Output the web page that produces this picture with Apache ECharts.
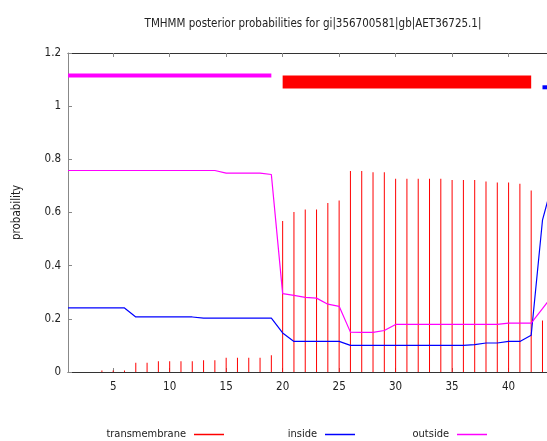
<!DOCTYPE html>
<html>
<head>
<meta charset="utf-8">
<script src="https://cdn.jsdelivr.net/npm/echarts@6/dist/echarts.min.js"></script>
<style>html,body{margin:0;padding:0;background:#fff;}#c{width:547px;height:441px;}</style>
</head>
<body>
<div id="c"></div>
<script>
const positions = [1,2,3,4,5,6,7,8,9,10,11,12,13,14,15,16,17,18,19,20,21,22,23,24,25,26,27,28,29,30,31,32,33,34,35,36,37,38,39,40,41,42,43,44];
const transmembrane = [0,0,0,0.006,0.006,0.006,0.035,0.035,0.040,0.040,0.040,0.040,0.044,0.044,0.054,0.054,0.054,0.054,0.063,0.568,0.602,0.611,0.611,0.636,0.645,0.756,0.756,0.751,0.751,0.727,0.727,0.727,0.727,0.727,0.722,0.722,0.722,0.717,0.713,0.713,0.708,0.683,0.194,0.0];
const inside = [0.241,0.241,0.241,0.241,0.241,0.241,0.207,0.207,0.207,0.207,0.207,0.207,0.203,0.203,0.203,0.203,0.203,0.203,0.203,0.147,0.115,0.115,0.115,0.115,0.115,0.100,0.100,0.100,0.100,0.100,0.100,0.100,0.100,0.100,0.100,0.100,0.103,0.109,0.109,0.115,0.115,0.138,0.571,0.73];
const outside = [0.758,0.758,0.758,0.758,0.758,0.758,0.758,0.758,0.758,0.758,0.758,0.758,0.758,0.758,0.748,0.748,0.748,0.748,0.743,0.295,0.288,0.281,0.278,0.255,0.247,0.150,0.149,0.149,0.156,0.179,0.179,0.179,0.179,0.179,0.179,0.179,0.179,0.179,0.179,0.184,0.184,0.184,0.238,0.294];
const xTicks = [5,10,15,20,25,30,35,40];
const outsideRegion = [1,19];
const tmRegion = [20,42];
const insideRegion = [43,44];
const outsideLevel = 1.115, tmLevel = 1.091, insideLevel = 1.071;

const FONT = '"Liberation Sans Narrow", "DejaVu Sans Condensed", sans-serif';
const pair = (a) => positions.map((p, i) => [p, a[i]]);
const seg = (r, lvl) => [[r[0], lvl], [r[1], lvl]];

const chart = echarts.init(document.getElementById('c'), null, {renderer: 'canvas'});
const legendBase = {
  orient: 'horizontal', align: 'right', icon: 'rect', itemWidth: 30, itemHeight: 1.5,
  top: 429, padding: 0,
  textStyle: {fontFamily: FONT, fontSize: 11, color: '#222', padding: [0, 3, 0, 0]},
  selectedMode: false
};
chart.setOption({
  animation: false,
  title: {
    text: 'TMHMM posterior probabilities for gi|356700581|gb|AET36725.1|',
    left: 308, top: 13, textAlign: 'center',
    textStyle: {fontFamily: FONT, fontSize: 11.5, fontWeight: 'normal', color: '#222'}
  },
  legend: [
    Object.assign({}, legendBase, {right: 323, data: ['transmembrane']}),
    Object.assign({}, legendBase, {right: 192, data: ['inside']}),
    Object.assign({}, legendBase, {right: 60, data: ['outside']})
  ],
  grid: {left: 68, top: 53, right: 0, bottom: 69, containLabel: false},
  xAxis: [{
    type: 'value', min: 1, max: 43.4, position: 'bottom',
    axisLine: {show: true, lineStyle: {color: '#333', width: 1}},
    axisTick: {show: true, inside: true, length: 4, customValues: xTicks, lineStyle: {color: '#888'}},
    axisLabel: {customValues: xTicks, margin: 9, fontFamily: FONT, fontSize: 11.5, color: '#222'},
    splitLine: {show: false}
  }, {
    type: 'value', min: 1, max: 43.4, position: 'top',
    axisLine: {show: true, onZero: false, lineStyle: {color: '#333', width: 1}},
    axisTick: {show: true, inside: true, length: 4, customValues: xTicks, lineStyle: {color: '#888'}},
    axisLabel: {show: false},
    splitLine: {show: false}
  }],
  yAxis: {
    type: 'value', min: 0, max: 1.2, interval: 0.2,
    name: 'probability', nameLocation: 'middle', nameGap: 45, nameRotate: 90,
    nameTextStyle: {fontFamily: FONT, fontSize: 11.5, color: '#222'},
    axisLine: {show: true, lineStyle: {color: '#888', width: 1}},
    axisTick: {show: true, inside: true, length: 4, lineStyle: {color: '#888'}},
    axisLabel: {margin: 7, fontFamily: FONT, fontSize: 11.5, color: '#222'},
    splitLine: {show: false}
  },
  series: [
    {name: 'transmembrane', type: 'bar', data: pair(transmembrane), barWidth: 1, itemStyle: {color: '#ff0000'}, z: 1, silent: true},
    {name: 'inside', type: 'line', data: pair(inside), symbol: 'none', lineStyle: {color: '#0000ff', width: 1.2}, itemStyle: {color: '#0000ff'}, z: 3},
    {name: 'outside', type: 'line', data: pair(outside), symbol: 'none', lineStyle: {color: '#ff00ff', width: 1.2}, itemStyle: {color: '#ff00ff'}, z: 4},
    {name: 'outsideRegion', type: 'line', data: seg(outsideRegion, outsideLevel), symbol: 'none', lineStyle: {color: '#ff00ff', width: 4, cap: 'butt'}, z: 5},
    {name: 'tmRegion', type: 'line', data: seg(tmRegion, tmLevel), symbol: 'none', lineStyle: {color: '#ff0000', width: 13, cap: 'butt'}, z: 5},
    {name: 'insideRegion', type: 'line', data: seg(insideRegion, insideLevel), symbol: 'none', lineStyle: {color: '#0000ff', width: 4, cap: 'butt'}, z: 5}
  ]
});
</script>
</body>
</html>
